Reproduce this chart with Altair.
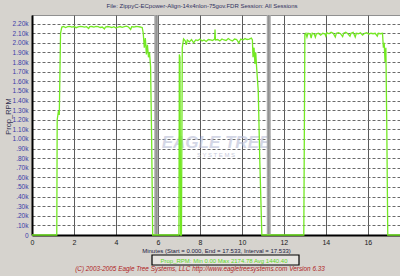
import altair as alt
import pandas as pd

# --- data ---
minutes = [
    0, 1.18, 1.2, 1.26, 1.3, 1.36, 1.42,
    1.5, 1.6, 1.7, 1.8, 1.9, 2.0, 2.1, 2.2, 2.3, 2.4, 2.5, 2.6, 2.7, 2.75, 2.85, 2.95,
    3.05, 3.15, 3.25, 3.35, 3.45, 3.5, 3.6, 3.7, 3.8, 3.9, 4.0, 4.1, 4.2, 4.3, 4.4,
    4.5, 4.6, 4.7, 4.75, 4.85, 4.95, 5.05, 5.15, 5.25, 5.3, 5.35, 5.4, 5.45, 5.5,
    5.55, 5.6, 5.65, 5.7, 5.75,
    7.0, 7.02, 7.05, 7.08, 7.12, 7.16, 7.22, 7.3, 7.35, 7.4, 7.5, 7.6, 7.7, 7.8,
    7.9, 8.0, 8.1, 8.2, 8.3, 8.4, 8.5, 8.6, 8.7, 8.72, 8.74, 8.85, 8.95, 9.05, 9.15,
    9.25, 9.35, 9.45, 9.55, 9.65, 9.75, 9.85, 9.95, 10.05, 10.15, 10.25, 10.35,
    10.45, 10.5, 10.53, 10.58, 10.62, 10.66, 10.7, 10.78, 10.85, 10.95,
    12.95, 13.0, 13.05, 13.1, 13.15, 13.25, 13.3, 13.35, 13.45, 13.5, 13.55, 13.65,
    13.75, 13.85, 13.95, 14.0, 14.05, 14.15, 14.25, 14.35, 14.45, 14.5, 14.6, 14.7,
    14.8, 14.85, 14.95, 15.05, 15.15, 15.2, 15.3, 15.4, 15.45, 15.55, 15.65, 15.75,
    15.85, 15.95, 16.05, 16.15, 16.25, 16.35, 16.45, 16.5, 16.6, 16.7, 16.74, 16.78,
    16.82, 16.86, 16.9, 16.95, 17.533,
]
prop_rpm = [
    0, 0, 1200, 1290, 1250, 2100, 2165,
    2170, 2160, 2168, 2172, 2165, 2170, 2158, 2166, 2172, 2170, 2163, 2168, 2150, 2168, 2170, 2165,
    2172, 2168, 2160, 2165, 2145, 2165, 2170, 2166, 2160, 2168, 2155, 2165, 2170, 2162, 2168,
    2174, 2165, 2140, 2168, 2165, 2170, 2168, 2165, 2160, 2100, 1950, 2050, 1880, 1980,
    1850, 1900, 1750, 1000, 0,
    0, 1880, 1850, 0, 0, 1950, 2040, 2020, 1980, 2030, 2010, 2035, 2000, 2030,
    2025, 2040, 2020, 2030, 2015, 2035, 2030, 2025, 2040, 2140, 2030, 2035, 2020, 2040, 2030,
    2025, 2045, 2030, 2020, 2040, 2035, 2000, 2040, 2030, 2045, 2035, 2040,
    2050, 2030, 1850, 1950, 1780, 1900, 1750, 1500, 800, 0,
    0, 2090, 2100, 2060, 2100, 2095, 2050, 2100, 2090, 2060, 2095, 2100,
    2080, 2100, 2095, 2070, 2105, 2095, 2110, 2100, 2060, 2100, 2105, 2095,
    2065, 2100, 2110, 2095, 2070, 2100, 2110, 2060, 2100, 2095, 2105, 2080,
    2100, 2105, 2090, 2100, 2095, 2100, 2070, 2100, 2095, 2100, 1950, 2000,
    1800, 1950, 1200, 0, 0,
]
session_breaks = [5.92, 11.28]
x_ticks = list(range(0, 18))
y_ticks = list(range(0, 2300, 100))

df = pd.DataFrame({"Minutes": minutes, "Prop_RPM": prop_rpm})
brk = pd.DataFrame({"t": session_breaks})

FONT = "Liberation Sans"
xs = alt.Scale(domain=[0, 17.533], nice=False, zero=False)
ys = alt.Scale(domain=[0, 2290], nice=False)

line = alt.Chart(df).mark_line(color="#74e824", strokeWidth=1.3).encode(
    x=alt.X("Minutes:Q", scale=xs,
            axis=alt.Axis(values=x_ticks, grid=True, gridColor="#5a5a5a", gridWidth=1,
                          ticks=False, labelPadding=3, labelFontSize=7, labelColor="#202020",
                          labelFont=FONT, domainColor="#000000", domainWidth=2,
                          title="Minutes (Start = 0.000,  End = 17.533,  Interval = 17.533)",
                          titleFontSize=6, titleFont=FONT, titleFontWeight="normal",
                          titleColor="#202040", titlePadding=2, labelFlush=False)),
    y=alt.Y("Prop_RPM:Q", scale=ys,
            axis=alt.Axis(values=y_ticks, grid=True, gridColor="#6a6a6a", gridDash=[3, 2],
                          ticks=False, labelPadding=4, labelFontSize=6.5, labelColor="#3c3ca8",
                          labelFont=FONT, domainColor="#000000", domainWidth=2,
                          labelExpr="datum.value == 0 ? '0' : (datum.value < 1000 ? '.' + format(datum.value / 10, 'd') + 'k' : format(datum.value, '.3s'))",
                          title="Prop_RPM", titleFontSize=7.5, titleFont=FONT,
                          titleFontWeight="normal", titleColor="#303050",
                          titleX=-20, titleY=101)),
)

seps = alt.Chart(brk).mark_rule(color="#a9a9a9", strokeWidth=4).encode(
    x=alt.X("t:Q", scale=xs))
seps_edge = alt.Chart(brk).mark_rule(color="#8a8a8a", strokeWidth=1).encode(
    x=alt.X("t:Q", scale=xs))

def label(txt, x, y, size, color, **kw):
    return alt.Chart(pd.DataFrame({"s": [txt]})).mark_text(
        fontSize=size, font=FONT, color=color, **kw
    ).encode(text="s:N", x=alt.value(x), y=alt.value(y))

watermark1 = label("EAGLE TREE", 184, 128, 17, "#b8bdd6", fontWeight="bold",
                   fontStyle="italic", opacity=0.6)
watermark2 = label("S Y S T E M S", 184, 140, 6, "#b0b4cc", opacity=0.7)

title = label("File: ZippyC-ECpower-Align-14x4nlon-75gov.FDR    Session: All Sessions",
              170, -9, 6, "#303060")

legend_box = alt.Chart(pd.DataFrame({"a": [0]})).mark_rect(
    fill="#e6e4e0", stroke="#000000", strokeWidth=1.2
).encode(x=alt.value(120), x2=alt.value(267), y=alt.value(240), y2=alt.value(250))
legend_txt = label("Prop_RPM:  Min 0.00    Max 2174.78    Avg 1440.40", 192, 245.5, 6, "#5ed81c")

footer = label("(C) 2003-2005 Eagle Tree Systems, LLC       http://www.eagletreesystems.com       Version 6.33",
               168, 254, 6.4, "#b01c1c", fontStyle="italic")

chart = alt.layer(
    watermark1, watermark2, seps, seps_edge, line, title, legend_box, legend_txt, footer
).properties(
    width=368, height=220,
    autosize=alt.AutoSizeParams(type="none"),
    padding={"left": 32, "top": 15, "right": 0, "bottom": 41},
).configure(background="#d6d3ce").configure_view(stroke="#909090", fill="#ffffff")

chart.save("out.html", embed_options={"renderer": "svg", "actions": False})
